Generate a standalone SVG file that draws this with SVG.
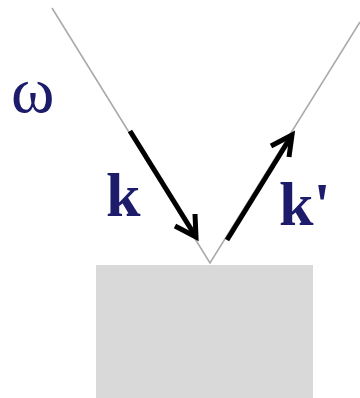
<svg xmlns="http://www.w3.org/2000/svg" width="360" height="398" viewBox="0 0 360 398">
<style>
.ray{stroke:#aaaaaa;stroke-width:1.6;fill:none}
.vec{stroke:#000;stroke-width:5;fill:none;stroke-linecap:butt;stroke-linejoin:miter}
.lbl{font-family:"Liberation Serif",serif;fill:#1c1c6b}
</style>
<rect width="360" height="398" fill="#fff"/>
<g id="surface"><rect x="96" y="265" width="217" height="133" fill="#d9d9d9"/></g>
<g id="connectors">
<path class="ray" d="M52,8 L210,263 L360,22"/>
<path class="vec" d="M130,131 L196,237"/>
<path class="vec" d="M175,226 L196,237 L195,214"/>
<path class="vec" d="M227,240 L292,135"/>
<path class="vec" d="M271,146 L292,135 L289,157"/>
</g>
<g id="omega"><text class="lbl" x="11" y="112" font-size="66">ω</text></g>
<g id="k"><text class="lbl" x="106" y="216" font-size="62" font-weight="bold">k</text></g>
<g id="kprime"><text class="lbl" x="279" y="225" font-size="62" font-weight="bold">k'</text></g>
</svg>
